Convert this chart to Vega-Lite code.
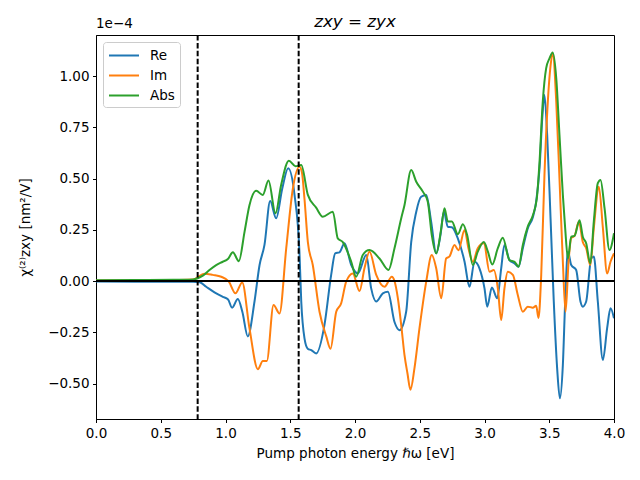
{
  "$schema": "https://vega.github.io/schema/vega-lite/v6.json",
  "width": 518,
  "height": 384,
  "autosize": {"type": "none"},
  "padding": {"left": 96, "top": 35, "right": 26, "bottom": 61},
  "background": "white",
  "title": {"text": "zxy = zyx", "font": "DejaVu Sans", "fontStyle": "italic", "fontWeight": "normal", "fontSize": 16.7, "color": "black", "anchor": "middle", "offset": -14},
  "config": {
    "font": "DejaVu Sans",
    "view": {"stroke": "black", "strokeWidth": 1},
    "axis": {"domainColor": "black", "tickColor": "black", "labelColor": "black", "titleColor": "black", "labelFontSize": 13.5, "titleFontSize": 13.5, "titleFontWeight": "normal", "tickSize": 3.5, "labelPadding": 3.5, "grid": false, "labelFont": "DejaVu Sans", "titleFont": "DejaVu Sans", "labelFlush": false, "labelOverlap": false},
    "legend": {"labelFont": "DejaVu Sans", "labelFontSize": 13.5, "labelColor": "black"}
  },
  "datasets": {
    "curves": [
      {"x": 0, "y": -0.002, "s": "Re"}, {"x": 0.3, "y": -0.003, "s": "Re"}, {"x": 0.6, "y": -0.004, "s": "Re"}, {"x": 0.75, "y": -0.004, "s": "Re"}, {"x": 0.8, "y": -0.006, "s": "Re"}, {"x": 0.851, "y": -0.028, "s": "Re"}, {"x": 0.915, "y": -0.055, "s": "Re"}, {"x": 0.979, "y": -0.077, "s": "Re"}, {"x": 1.02, "y": -0.09, "s": "Re"}, {"x": 1.051, "y": -0.13, "s": "Re"}, {"x": 1.095, "y": -0.088, "s": "Re"}, {"x": 1.13, "y": -0.15, "s": "Re"}, {"x": 1.172, "y": -0.27, "s": "Re"}, {"x": 1.224, "y": -0.1, "s": "Re"}, {"x": 1.263, "y": 0.078, "s": "Re"}, {"x": 1.301, "y": 0.176, "s": "Re"}, {"x": 1.345, "y": 0.39, "s": "Re"}, {"x": 1.391, "y": 0.306, "s": "Re"}, {"x": 1.438, "y": 0.45, "s": "Re"}, {"x": 1.484, "y": 0.55, "s": "Re"}, {"x": 1.533, "y": 0.42, "s": "Re"}, {"x": 1.571, "y": 0.14, "s": "Re"}, {"x": 1.585, "y": -0.1, "s": "Re"}, {"x": 1.61, "y": -0.28, "s": "Re"}, {"x": 1.635, "y": -0.33, "s": "Re"}, {"x": 1.662, "y": -0.337, "s": "Re"}, {"x": 1.7, "y": -0.353, "s": "Re"}, {"x": 1.764, "y": -0.215, "s": "Re"}, {"x": 1.816, "y": 0.03, "s": "Re"}, {"x": 1.847, "y": 0.135, "s": "Re"}, {"x": 1.88, "y": 0.14, "s": "Re"}, {"x": 1.919, "y": 0.184, "s": "Re"}, {"x": 1.971, "y": 0.078, "s": "Re"}, {"x": 2.022, "y": 0.037, "s": "Re"}, {"x": 2.087, "y": 0.127, "s": "Re"}, {"x": 2.125, "y": -0.036, "s": "Re"}, {"x": 2.164, "y": -0.1, "s": "Re"}, {"x": 2.215, "y": -0.06, "s": "Re"}, {"x": 2.254, "y": -0.052, "s": "Re"}, {"x": 2.305, "y": -0.2, "s": "Re"}, {"x": 2.344, "y": -0.24, "s": "Re"}, {"x": 2.395, "y": -0.15, "s": "Re"}, {"x": 2.434, "y": 0.19, "s": "Re"}, {"x": 2.473, "y": 0.338, "s": "Re"}, {"x": 2.511, "y": 0.411, "s": "Re"}, {"x": 2.55, "y": 0.42, "s": "Re"}, {"x": 2.588, "y": 0.29, "s": "Re"}, {"x": 2.627, "y": 0.135, "s": "Re"}, {"x": 2.66, "y": 0.224, "s": "Re"}, {"x": 2.686, "y": 0.338, "s": "Re"}, {"x": 2.717, "y": 0.265, "s": "Re"}, {"x": 2.748, "y": 0.262, "s": "Re"}, {"x": 2.794, "y": 0.208, "s": "Re"}, {"x": 2.846, "y": 0.094, "s": "Re"}, {"x": 2.884, "y": -0.028, "s": "Re"}, {"x": 2.923, "y": 0.094, "s": "Re"}, {"x": 2.961, "y": 0.062, "s": "Re"}, {"x": 3.0, "y": -0.036, "s": "Re"}, {"x": 3.021, "y": -0.125, "s": "Re"}, {"x": 3.057, "y": -0.032, "s": "Re"}, {"x": 3.098, "y": -0.084, "s": "Re"}, {"x": 3.129, "y": 0.062, "s": "Re"}, {"x": 3.154, "y": 0.176, "s": "Re"}, {"x": 3.193, "y": 0.102, "s": "Re"}, {"x": 3.232, "y": 0.086, "s": "Re"}, {"x": 3.263, "y": 0.07, "s": "Re"}, {"x": 3.296, "y": 0.16, "s": "Re"}, {"x": 3.334, "y": 0.257, "s": "Re"}, {"x": 3.373, "y": 0.31, "s": "Re"}, {"x": 3.399, "y": 0.387, "s": "Re"}, {"x": 3.425, "y": 0.55, "s": "Re"}, {"x": 3.446, "y": 0.794, "s": "Re"}, {"x": 3.463, "y": 0.907, "s": "Re"}, {"x": 3.484, "y": 0.712, "s": "Re"}, {"x": 3.51, "y": 0.306, "s": "Re"}, {"x": 3.535, "y": -0.1, "s": "Re"}, {"x": 3.561, "y": -0.426, "s": "Re"}, {"x": 3.582, "y": -0.572, "s": "Re"}, {"x": 3.605, "y": -0.41, "s": "Re"}, {"x": 3.623, "y": -0.1, "s": "Re"}, {"x": 3.644, "y": 0.143, "s": "Re"}, {"x": 3.67, "y": 0.078, "s": "Re"}, {"x": 3.708, "y": 0.054, "s": "Re"}, {"x": 3.741, "y": -0.1, "s": "Re"}, {"x": 3.759, "y": -0.125, "s": "Re"}, {"x": 3.785, "y": -0.1, "s": "Re"}, {"x": 3.824, "y": 0.11, "s": "Re"}, {"x": 3.844, "y": 0.12, "s": "Re"}, {"x": 3.875, "y": -0.1, "s": "Re"}, {"x": 3.914, "y": -0.385, "s": "Re"}, {"x": 3.947, "y": -0.23, "s": "Re"}, {"x": 3.973, "y": -0.133, "s": "Re"}, {"x": 4.0, "y": -0.182, "s": "Re"},
      {"x": 0, "y": 0.002, "s": "Im"}, {"x": 0.3, "y": 0.003, "s": "Im"}, {"x": 0.6, "y": 0.005, "s": "Im"}, {"x": 0.75, "y": 0.007, "s": "Im"}, {"x": 0.838, "y": 0.036, "s": "Im"}, {"x": 0.902, "y": 0.03, "s": "Im"}, {"x": 0.967, "y": 0.021, "s": "Im"}, {"x": 1.026, "y": -0.003, "s": "Im"}, {"x": 1.077, "y": -0.06, "s": "Im"}, {"x": 1.129, "y": -0.007, "s": "Im"}, {"x": 1.185, "y": -0.23, "s": "Im"}, {"x": 1.25, "y": -0.43, "s": "Im"}, {"x": 1.288, "y": -0.39, "s": "Im"}, {"x": 1.319, "y": -0.39, "s": "Im"}, {"x": 1.371, "y": -0.117, "s": "Im"}, {"x": 1.417, "y": -0.158, "s": "Im"}, {"x": 1.469, "y": 0.16, "s": "Im"}, {"x": 1.52, "y": 0.45, "s": "Im"}, {"x": 1.571, "y": 0.557, "s": "Im"}, {"x": 1.59, "y": 0.53, "s": "Im"}, {"x": 1.61, "y": 0.4, "s": "Im"}, {"x": 1.636, "y": 0.19, "s": "Im"}, {"x": 1.674, "y": 0.078, "s": "Im"}, {"x": 1.726, "y": -0.15, "s": "Im"}, {"x": 1.778, "y": -0.27, "s": "Im"}, {"x": 1.811, "y": -0.33, "s": "Im"}, {"x": 1.855, "y": -0.15, "s": "Im"}, {"x": 1.893, "y": -0.109, "s": "Im"}, {"x": 1.932, "y": -0.003, "s": "Im"}, {"x": 1.983, "y": 0.037, "s": "Im"}, {"x": 2.035, "y": -0.049, "s": "Im"}, {"x": 2.073, "y": 0.062, "s": "Im"}, {"x": 2.112, "y": 0.143, "s": "Im"}, {"x": 2.164, "y": 0.03, "s": "Im"}, {"x": 2.228, "y": -0.028, "s": "Im"}, {"x": 2.284, "y": 0.021, "s": "Im"}, {"x": 2.305, "y": 0.0, "s": "Im"}, {"x": 2.331, "y": -0.084, "s": "Im"}, {"x": 2.357, "y": -0.215, "s": "Im"}, {"x": 2.382, "y": -0.36, "s": "Im"}, {"x": 2.405, "y": -0.45, "s": "Im"}, {"x": 2.428, "y": -0.53, "s": "Im"}, {"x": 2.459, "y": -0.426, "s": "Im"}, {"x": 2.498, "y": -0.23, "s": "Im"}, {"x": 2.55, "y": -0.003, "s": "Im"}, {"x": 2.593, "y": 0.127, "s": "Im"}, {"x": 2.627, "y": 0.062, "s": "Im"}, {"x": 2.666, "y": -0.084, "s": "Im"}, {"x": 2.704, "y": 0.11, "s": "Im"}, {"x": 2.73, "y": 0.12, "s": "Im"}, {"x": 2.768, "y": 0.176, "s": "Im"}, {"x": 2.799, "y": 0.15, "s": "Im"}, {"x": 2.846, "y": 0.249, "s": "Im"}, {"x": 2.876, "y": 0.16, "s": "Im"}, {"x": 2.91, "y": 0.094, "s": "Im"}, {"x": 2.948, "y": 0.16, "s": "Im"}, {"x": 2.995, "y": 0.184, "s": "Im"}, {"x": 3.039, "y": 0.045, "s": "Im"}, {"x": 3.072, "y": 0.054, "s": "Im"}, {"x": 3.103, "y": -0.036, "s": "Im"}, {"x": 3.129, "y": -0.19, "s": "Im"}, {"x": 3.154, "y": -0.036, "s": "Im"}, {"x": 3.18, "y": 0.045, "s": "Im"}, {"x": 3.219, "y": 0.03, "s": "Im"}, {"x": 3.257, "y": -0.068, "s": "Im"}, {"x": 3.296, "y": -0.15, "s": "Im"}, {"x": 3.334, "y": -0.125, "s": "Im"}, {"x": 3.373, "y": -0.13, "s": "Im"}, {"x": 3.399, "y": -0.12, "s": "Im"}, {"x": 3.417, "y": -0.18, "s": "Im"}, {"x": 3.438, "y": 0.03, "s": "Im"}, {"x": 3.463, "y": 0.517, "s": "Im"}, {"x": 3.489, "y": 0.875, "s": "Im"}, {"x": 3.51, "y": 1.05, "s": "Im"}, {"x": 3.527, "y": 1.11, "s": "Im"}, {"x": 3.554, "y": 0.875, "s": "Im"}, {"x": 3.579, "y": 0.5, "s": "Im"}, {"x": 3.605, "y": 0.094, "s": "Im"}, {"x": 3.626, "y": -0.15, "s": "Im"}, {"x": 3.649, "y": 0.094, "s": "Im"}, {"x": 3.67, "y": 0.21, "s": "Im"}, {"x": 3.695, "y": 0.22, "s": "Im"}, {"x": 3.729, "y": 0.29, "s": "Im"}, {"x": 3.759, "y": 0.19, "s": "Im"}, {"x": 3.785, "y": 0.16, "s": "Im"}, {"x": 3.817, "y": 0.078, "s": "Im"}, {"x": 3.844, "y": 0.257, "s": "Im"}, {"x": 3.883, "y": 0.46, "s": "Im"}, {"x": 3.914, "y": 0.26, "s": "Im"}, {"x": 3.947, "y": 0.037, "s": "Im"}, {"x": 3.973, "y": 0.094, "s": "Im"}, {"x": 4.0, "y": 0.135, "s": "Im"},
      {"x": 0, "y": 0.004, "s": "Abs"}, {"x": 0.3, "y": 0.005, "s": "Abs"}, {"x": 0.6, "y": 0.006, "s": "Abs"}, {"x": 0.75, "y": 0.008, "s": "Abs"}, {"x": 0.825, "y": 0.026, "s": "Abs"}, {"x": 0.876, "y": 0.054, "s": "Abs"}, {"x": 0.928, "y": 0.078, "s": "Abs"}, {"x": 0.979, "y": 0.094, "s": "Abs"}, {"x": 1.018, "y": 0.107, "s": "Abs"}, {"x": 1.057, "y": 0.14, "s": "Abs"}, {"x": 1.103, "y": 0.097, "s": "Abs"}, {"x": 1.147, "y": 0.24, "s": "Abs"}, {"x": 1.185, "y": 0.37, "s": "Abs"}, {"x": 1.237, "y": 0.44, "s": "Abs"}, {"x": 1.288, "y": 0.42, "s": "Abs"}, {"x": 1.332, "y": 0.49, "s": "Abs"}, {"x": 1.386, "y": 0.33, "s": "Abs"}, {"x": 1.43, "y": 0.47, "s": "Abs"}, {"x": 1.489, "y": 0.587, "s": "Abs"}, {"x": 1.54, "y": 0.56, "s": "Abs"}, {"x": 1.585, "y": 0.566, "s": "Abs"}, {"x": 1.636, "y": 0.42, "s": "Abs"}, {"x": 1.7, "y": 0.358, "s": "Abs"}, {"x": 1.751, "y": 0.314, "s": "Abs"}, {"x": 1.829, "y": 0.338, "s": "Abs"}, {"x": 1.867, "y": 0.208, "s": "Abs"}, {"x": 1.906, "y": 0.19, "s": "Abs"}, {"x": 1.971, "y": 0.094, "s": "Abs"}, {"x": 2.009, "y": 0.021, "s": "Abs"}, {"x": 2.06, "y": 0.127, "s": "Abs"}, {"x": 2.112, "y": 0.151, "s": "Abs"}, {"x": 2.189, "y": 0.11, "s": "Abs"}, {"x": 2.259, "y": 0.054, "s": "Abs"}, {"x": 2.305, "y": 0.16, "s": "Abs"}, {"x": 2.357, "y": 0.306, "s": "Abs"}, {"x": 2.382, "y": 0.37, "s": "Abs"}, {"x": 2.434, "y": 0.541, "s": "Abs"}, {"x": 2.473, "y": 0.484, "s": "Abs"}, {"x": 2.524, "y": 0.436, "s": "Abs"}, {"x": 2.562, "y": 0.387, "s": "Abs"}, {"x": 2.593, "y": 0.224, "s": "Abs"}, {"x": 2.627, "y": 0.135, "s": "Abs"}, {"x": 2.666, "y": 0.257, "s": "Abs"}, {"x": 2.691, "y": 0.355, "s": "Abs"}, {"x": 2.717, "y": 0.29, "s": "Abs"}, {"x": 2.748, "y": 0.29, "s": "Abs"}, {"x": 2.794, "y": 0.228, "s": "Abs"}, {"x": 2.833, "y": 0.277, "s": "Abs"}, {"x": 2.866, "y": 0.224, "s": "Abs"}, {"x": 2.91, "y": 0.078, "s": "Abs"}, {"x": 2.948, "y": 0.143, "s": "Abs"}, {"x": 2.995, "y": 0.19, "s": "Abs"}, {"x": 3.026, "y": 0.143, "s": "Abs"}, {"x": 3.06, "y": 0.081, "s": "Abs"}, {"x": 3.103, "y": 0.16, "s": "Abs"}, {"x": 3.141, "y": 0.211, "s": "Abs"}, {"x": 3.193, "y": 0.102, "s": "Abs"}, {"x": 3.232, "y": 0.094, "s": "Abs"}, {"x": 3.263, "y": 0.07, "s": "Abs"}, {"x": 3.296, "y": 0.176, "s": "Abs"}, {"x": 3.334, "y": 0.265, "s": "Abs"}, {"x": 3.373, "y": 0.32, "s": "Abs"}, {"x": 3.404, "y": 0.403, "s": "Abs"}, {"x": 3.425, "y": 0.582, "s": "Abs"}, {"x": 3.45, "y": 0.875, "s": "Abs"}, {"x": 3.476, "y": 1.037, "s": "Abs"}, {"x": 3.502, "y": 1.086, "s": "Abs"}, {"x": 3.527, "y": 1.115, "s": "Abs"}, {"x": 3.554, "y": 0.99, "s": "Abs"}, {"x": 3.579, "y": 0.712, "s": "Abs"}, {"x": 3.605, "y": 0.42, "s": "Abs"}, {"x": 3.623, "y": 0.257, "s": "Abs"}, {"x": 3.644, "y": 0.11, "s": "Abs"}, {"x": 3.67, "y": 0.216, "s": "Abs"}, {"x": 3.695, "y": 0.22, "s": "Abs"}, {"x": 3.734, "y": 0.297, "s": "Abs"}, {"x": 3.759, "y": 0.216, "s": "Abs"}, {"x": 3.785, "y": 0.184, "s": "Abs"}, {"x": 3.817, "y": 0.086, "s": "Abs"}, {"x": 3.844, "y": 0.29, "s": "Abs"}, {"x": 3.875, "y": 0.477, "s": "Abs"}, {"x": 3.896, "y": 0.493, "s": "Abs"}, {"x": 3.927, "y": 0.355, "s": "Abs"}, {"x": 3.965, "y": 0.151, "s": "Abs"}, {"x": 4.0, "y": 0.233, "s": "Abs"}
    ]
  },
  "layer": [
    {
      "data": {"name": "curves"},
      "mark": {"type": "line", "interpolate": "monotone", "strokeWidth": 2, "clip": true},
      "encoding": {
        "x": {"field": "x", "type": "quantitative", "scale": {"domain": [0, 4], "nice": false, "zero": false},
          "axis": {"title": "Pump photon energy ℏω [eV]", "values": [0, 0.5, 1, 1.5, 2, 2.5, 3, 3.5, 4], "format": ".1f", "titlePadding": 7}},
        "y": {"field": "y", "type": "quantitative", "scale": {"domain": [-0.673, 1.2], "nice": false, "zero": false},
          "axis": {"title": "χ⁽²⁾zxy [nm²/V]", "values": [-0.5, -0.25, 0, 0.25, 0.5, 0.75, 1.0], "format": ".2f", "titlePadding": 15}},
        "color": {"field": "s", "type": "nominal", "sort": ["Re", "Im", "Abs"],
          "scale": {"domain": ["Re", "Im", "Abs"], "range": ["#1f77b4", "#ff7f0e", "#2ca02c"]},
          "legend": {"title": null, "orient": "top-left", "offset": 7, "symbolType": "M-1,0H3", "symbolSize": 225, "symbolStrokeWidth": 2, "rowPadding": 5, "padding": 5, "strokeColor": "#cccccc", "fillColor": "white", "cornerRadius": 3, "labelOffset": 25}}
      }
    },
    {
      "data": {"values": [{"y": 0}]},
      "mark": {"type": "rule", "color": "black", "strokeWidth": 2},
      "encoding": {"y": {"field": "y", "type": "quantitative"}}
    },
    {
      "data": {"values": [{"x": 0.785}, {"x": 1.565}]},
      "mark": {"type": "rule", "color": "black", "strokeWidth": 2, "strokeDash": [5.5, 2.4]},
      "encoding": {"x": {"field": "x", "type": "quantitative"}}
    },
    {
      "data": {"values": [{"x": 0, "y": 1.2, "t": "1e−4"}]},
      "mark": {"type": "text", "align": "left", "baseline": "bottom", "dy": -4, "fontSize": 13.5, "color": "black", "clip": false},
      "encoding": {"x": {"field": "x", "type": "quantitative"}, "y": {"field": "y", "type": "quantitative"}, "text": {"field": "t"}}
    }
  ]
}
